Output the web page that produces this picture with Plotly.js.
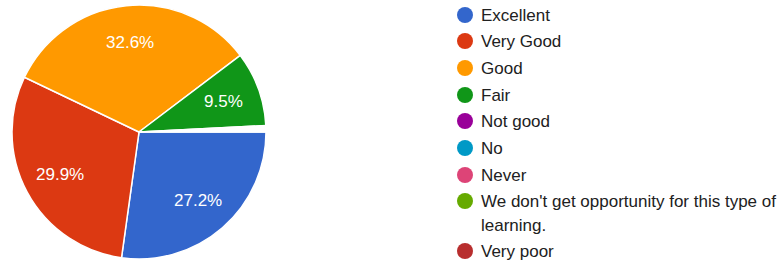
<!DOCTYPE html>
<html>
<head>
<meta charset="utf-8">
<script src="https://cdn.plot.ly/plotly-3.0.1.min.js"></script>
<style>html,body{margin:0;padding:0;background:#fff;}#chart{width:783px;height:262px;}</style>
</head>
<body>
<div id="chart"></div>
<script>
// Pie slices (percent), in drawing order starting at 3 o'clock, clockwise
const sliceLabels = ["Excellent", "Very Good", "Good", "Fair", "Not good"];
const sliceValues = [27.2, 29.9, 32.6, 9.5, 0.8];
const sliceColors = ["#3366cc", "#dc3912", "#ff9900", "#109618", "#ffffff"];

// Legend categories
const legendLabels = ["Excellent", "Very Good", "Good", "Fair", "Not good", "No", "Never",
  "We don't get opportunity for this type of learning.", "Very poor"];
const legendColors = ["#3366cc", "#dc3912", "#ff9900", "#109618", "#990099", "#0099c6", "#dd4477", "#66aa00", "#b82e2e"];

const W = 783, H = 262;
const cx = 139, cy = 132, r = 127;
const FONT = "Liberation Sans, Arial, sans-serif";

const pie = {
  type: "pie",
  labels: sliceLabels,
  values: sliceValues,
  sort: false,
  direction: "clockwise",
  rotation: 90,
  marker: {colors: sliceColors, line: {color: "#ffffff", width: 1.5}},
  textinfo: "none",
  hoverinfo: "none",
  showlegend: false,
  domain: {x: [(cx - r) / W, (cx + r) / W], y: [(H - cy - r) / H, (H - cy + r) / H]}
};

const shapes = [];
const annotations = [];

// slice percentage labels placed along each slice's bisector
const total = sliceValues.reduce((a, b) => a + b, 0);
let acc = 0;
sliceValues.forEach(v => {
  const midDeg = (acc + v / 2) / total * 360; // clockwise from 3 o'clock
  acc += v;
  if (v < 1) return;
  const a = midDeg * Math.PI / 180;
  const d = 0.71 * r;
  annotations.push({x: cx + d * Math.cos(a), y: cy + d * Math.sin(a), xref: "x", yref: "y",
    text: v.toFixed(1) + "%", showarrow: false, xanchor: "center", yanchor: "middle",
    font: {family: FONT, size: 17, color: "#ffffff"}});
});

const rowY = [15, 41, 68, 95, 121, 148, 175, 201, 251];
const lineGap = 24;
legendLabels.forEach((lab, i) => {
  const y = rowY[i];
  shapes.push({type: "circle", xref: "x", yref: "y", x0: 457, x1: 473, y0: y - 8, y1: y + 8,
    fillcolor: legendColors[i], line: {width: 0}});
  const words = lab.split(" ");
  let lines = [lab];
  if (lab.length > 45) {
    lines = [words.slice(0, -1).join(" "), words[words.length - 1]];
  }
  lines.forEach((ln, j) => {
    annotations.push({x: 479, y: y + j * lineGap, xref: "x", yref: "y", text: ln, showarrow: false,
      xanchor: "left", yanchor: "middle",
      font: {family: FONT, size: 17, color: "#212121"}});
  });
});

const layout = {
  width: W, height: H,
  margin: {l: 0, r: 0, t: 0, b: 0},
  paper_bgcolor: "#ffffff",
  plot_bgcolor: "rgba(0,0,0,0)",
  xaxis: {range: [0, W], visible: false, fixedrange: true},
  yaxis: {range: [H, 0], visible: false, fixedrange: true},
  shapes: shapes,
  annotations: annotations,
  showlegend: false
};

Plotly.newPlot("chart", [pie], layout, {displayModeBar: false, staticPlot: true});
</script>
</body>
</html>
